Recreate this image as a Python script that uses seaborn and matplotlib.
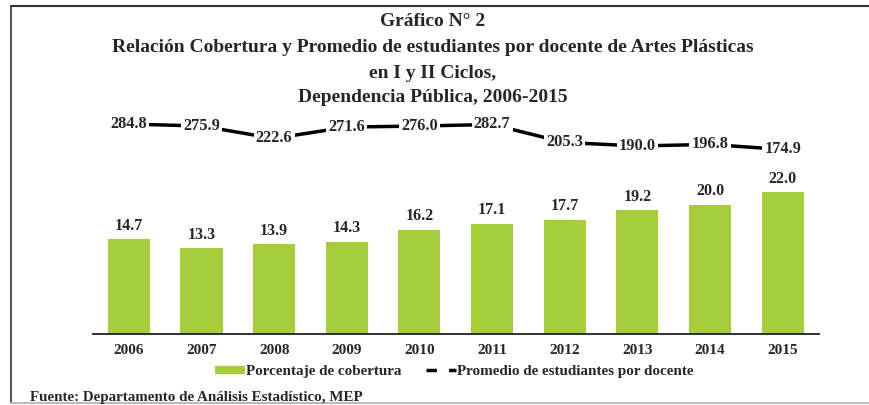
import numpy as np
import matplotlib.pyplot as plt
import seaborn as sns
from matplotlib.lines import Line2D

sns.set_theme(style="white")
plt.rcParams['font.family'] = ['Liberation Serif', 'DejaVu Serif']
plt.rcParams['font.weight'] = 'bold'

# Data
years = ['2006', '2007', '2008', '2009', '2010', '2011', '2012', '2013', '2014', '2015']
cobertura = [14.7, 13.3, 13.9, 14.3, 16.2, 17.1, 17.7, 19.2, 20.0, 22.0]
promedio = [284.8, 275.9, 222.6, 271.6, 276.0, 282.7, 205.3, 190.0, 196.8, 174.9]

title_lines = ["Gráfico N° 2",
               "Relación Cobertura y Promedio de estudiantes por docente de Artes Plásticas",
               "en I y II Ciclos,",
               "Dependencia Pública, 2006-2015"]

W, H = 870, 405
fig = plt.figure(figsize=(W / 100, H / 100), dpi=100)
fig.patch.set_facecolor('white')

# axes in pixel coordinates (left, right, top, bottom from top edge)
l, r, t, b = 92.5, 819, 110, 334
ax = fig.add_axes([l / W, 1 - b / H, (r - l) / W, (b - t) / H])

green = '#A6CD3A'
sns.barplot(x=years, y=cobertura, color=green, width=0.58, saturation=1,
            edgecolor='none', ax=ax)
ax.set_xlim(-0.5, len(years) - 0.5)
ax.set_ylim(0, (b - t) / 6.45)
ax.bar_label(ax.containers[0], fmt='%.1f', padding=4, fontsize=11.5, fontweight='bold')

for s in ['top', 'right', 'left']:
    ax.spines[s].set_visible(False)
ax.spines['bottom'].set_color('#222222')
ax.spines['bottom'].set_linewidth(1.3)
ax.set_yticks([])
ax.set_xlabel('')
ax.set_ylabel('')
ax.tick_params(axis='x', length=0, pad=7.5, labelsize=11)
for lab in ax.get_xticklabels():
    lab.set_fontweight('bold')

# secondary axis for the line
ax2 = ax.twinx()
k = 0.232  # px per unit
ax2.set_ylim(284.8 - (b - 124) / k, 284.8 + (124 - t) / k)
xs = np.arange(len(years))
ax2.plot(xs, promedio, color='black', lw=2.5, solid_capstyle='butt')
for xi, v in zip(xs, promedio):
    ax2.text(xi, v, f'{v:.1f}', ha='center', va='center', fontsize=11.8,
             fontweight='bold', bbox=dict(facecolor='white', edgecolor='none', pad=1.5))
ax2.set_yticks([])
for s in ax2.spines.values():
    s.set_visible(False)

# title
ys = [22, 48, 73, 98]
for txt, yy in zip(title_lines, ys):
    fig.text(433 / W, 1 - yy / H, txt, ha='center', va='center', fontsize=14,
             fontweight='bold')

# legend
handles = [Line2D([0], [0], color=green, lw=6, solid_capstyle='butt'),
           Line2D([0], [0], color='black', lw=2.5, dashes=(3, 3.5), dash_capstyle='butt')]
fig.legend(handles, ['Porcentaje de cobertura', 'Promedio de estudiantes por docente'],
           loc='center', bbox_to_anchor=(454 / W, 1 - 371 / H), ncol=2, frameon=False,
           handlelength=2.0, handletextpad=0.05, columnspacing=1.6,
           prop={'weight': 'bold', 'size': 10.9})

fig.text(30 / W, 1 - 398 / H, 'Fuente: Departamento de Análisis Estadístico, MEP',
         ha='left', va='center', fontsize=10.8, fontweight='bold')

# frame lines
fig.add_artist(Line2D([11 / W, 11 / W], [1 - 6 / H, 1 - 403 / H], color='#333333', lw=1.2))
fig.add_artist(Line2D([11 / W, 1], [1 - 6 / H, 1 - 6 / H], color='#333333', lw=1.5))
fig.add_artist(Line2D([11 / W, 1], [1 - 403 / H, 1 - 403 / H], color='#BBBBBB', lw=1.5))

fig.savefig('out.png', dpi=100, facecolor='white')
